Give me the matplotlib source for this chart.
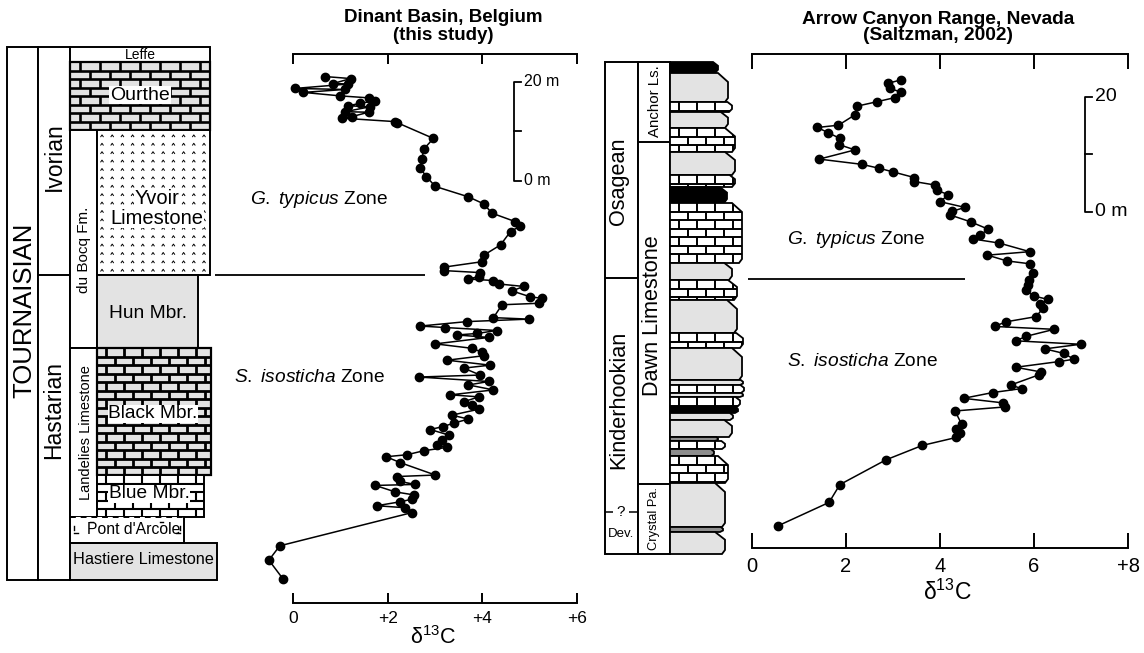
import numpy as np
import matplotlib
matplotlib.use("Agg")
import matplotlib.pyplot as plt
from matplotlib.patches import Rectangle, Polygon
from matplotlib.collections import LineCollection

plt.rcParams['font.family'] = ['Liberation Sans', 'DejaVu Sans']
plt.rcParams['mathtext.fontset'] = 'custom'
plt.rcParams['mathtext.rm'] = 'Liberation Sans'
plt.rcParams['mathtext.it'] = 'Liberation Sans:italic'

# ---------------- data ----------------
# Dinant Basin (left): d13C values and stratigraphic height (m), top to bottom
left_d13c = [0.68, 1.22, 0.85, 1.17, 0.04, 1.10, 0.22, 1.00, 1.60, 1.74,
             1.42, 1.17, 1.63, 1.10, 1.60, 1.24, 1.03, 2.16, 2.20, 2.97,
             2.76, 2.73, 2.69, 2.82, 3.01, 3.71, 4.03, 4.21, 4.70, 4.81,
             4.60, 4.39, 4.05, 4.00, 3.19, 3.20, 3.96, 3.93, 3.71, 4.24,
             4.35, 4.88, 4.63, 5.02, 5.27, 5.20, 4.42, 4.24, 4.99, 3.68,
             2.69, 3.22, 4.31, 3.89, 3.47, 4.14, 3.01, 3.79, 4.00, 4.03,
             3.26, 4.17, 3.61, 3.96, 2.66, 4.14, 3.71, 4.24, 3.33, 3.93,
             3.61, 3.79, 3.93, 3.36, 3.71, 3.40, 3.18, 2.90, 3.29, 3.15,
             3.04, 3.26, 2.76, 2.41, 1.97, 2.27, 3.01, 2.20, 2.27, 2.58,
             1.74, 2.16, 2.55, 2.51, 2.27, 1.77, 2.37, 2.51, -0.28, -0.51, -0.21]
left_height = [101.7, 101.3, 100.3, 100.2, 99.3, 99.1, 98.5, 97.8, 97.4, 96.8,
               96.3, 95.8, 95.6, 94.6, 94.5, 93.6, 93.3, 92.6, 92.4, 89.2,
               87.0, 85.0, 83.2, 81.5, 79.5, 77.4, 76.0, 74.1, 72.4, 71.5,
               70.4, 67.7, 65.7, 64.3, 63.2, 62.5, 62.1, 61.3, 60.8, 60.5,
               59.8, 59.3, 58.4, 57.2, 56.9, 55.9, 55.6, 53.0, 52.7, 52.2,
               51.3, 51.0, 50.4, 49.8, 49.5, 49.0, 47.7, 46.8, 46.0, 45.3,
               44.4, 43.4, 42.8, 41.4, 41.0, 40.1, 39.4, 38.4, 37.4, 37.0,
               36.0, 35.4, 34.5, 33.3, 32.5, 31.7, 31.0, 30.4, 29.3, 28.3,
               27.3, 26.8, 26.1, 25.3, 24.9, 23.7, 21.2, 20.9, 19.9, 19.3,
               19.1, 17.8, 17.2, 16.3, 15.8, 15.0, 14.6, 13.6, 6.9, 4.0, 0.2]

# Arrow Canyon (right): d13C values and height (m), top to bottom
right_d13c = [3.18, 2.90, 2.94, 3.18, 3.04, 2.67, 2.23, 2.19, 1.84, 1.39,
              1.62, 1.87, 1.86, 2.19, 1.43, 2.33, 2.71, 2.99, 3.45, 3.45,
              3.89, 3.93, 4.18, 4.00, 4.53, 4.25, 4.21, 4.65, 5.03, 4.85,
              4.71, 5.26, 5.91, 5.01, 5.42, 5.91, 5.98, 5.90, 5.88, 5.84,
              5.99, 6.30, 6.13, 6.20, 6.04, 5.40, 5.16, 6.43, 5.84, 5.61,
              6.99, 6.23, 6.64, 6.85, 6.54, 5.61, 6.14, 6.11, 5.50, 5.74,
              5.12, 4.50, 5.35, 5.38, 4.32, 4.46, 4.35, 4.42, 4.35, 3.62,
              2.85, 1.87, 1.64, 0.56]
right_height = [78.3, 77.7, 76.8, 76.1, 75.2, 74.5, 73.7, 72.2, 70.4, 70.0,
                69.1, 68.1, 67.0, 66.1, 64.5, 63.6, 62.9, 62.3, 61.3, 60.6,
                60.0, 59.1, 58.3, 57.1, 56.1, 55.4, 54.8, 53.6, 52.3, 51.3,
                50.6, 49.9, 48.4, 47.8, 46.8, 46.3, 44.7, 43.5, 42.6, 41.7,
                40.7, 40.1, 39.3, 38.6, 37.1, 36.2, 35.4, 34.9, 33.7, 32.9,
                32.3, 31.5, 30.7, 29.7, 29.3, 28.3, 27.5, 27.0, 25.2, 24.6,
                23.9, 22.9, 22.1, 21.4, 20.7, 18.4, 17.5, 16.9, 16.1, 14.7,
                12.2, 7.9, 4.8, 0.75]

left_ticks = [0, 2, 4, 6]
left_ticklabels = ['0', '+2', '+4', '+6']
right_ticks = [0, 2, 4, 6, 8]
right_ticklabels = ['0', '2', '4', '6', '+8']

# ---------------- figure ----------------
W, H = 1144, 653
fig = plt.figure(figsize=(W / 100, H / 100), dpi=100)
bg = fig.add_axes([0, 0, 1, 1])
bg.set_xlim(0, W)
bg.set_ylim(H, 0)
bg.axis('off')

LW = 1.4
GREY = '#e3e3e3'
DGREY = '#8e8e8e'


def ax_rect(x0, y0, x1, y1):
    return [x0 / W, 1 - y1 / H, (x1 - x0) / W, (y1 - y0) / H]


def rect(x0, y0, x1, y1, fc='white', lw=LW, z=2):
    p = Rectangle((x0, y0), x1 - x0, y1 - y0, facecolor=fc, edgecolor='black',
                  lw=lw, zorder=z)
    bg.add_patch(p)
    return p


def bricks(patch, x0, y0, x1, y1, rh, bw, lw):
    segs = []
    y = y0
    i = 0
    while y < y1 - 0.5:
        yb = min(y + rh, y1)
        if y > y0:
            segs.append([(x0, y), (x1, y)])
        x = x0 + (i % 2) * bw / 2 + bw / 2
        while x < x1:
            segs.append([(x, y), (x, yb)])
            x += bw
        y += rh
        i += 1
    lc = LineCollection(segs, colors='black', linewidths=lw,
                        zorder=patch.get_zorder() + 0.1)
    bg.add_collection(lc)
    lc.set_clip_path(patch)


def hline(x0, x1, y, lw=LW, **kw):
    bg.plot([x0, x1], [y, y], color='black', lw=lw, solid_capstyle='butt', zorder=3, **kw)


wb = dict(facecolor='white', edgecolor='none', pad=0.6)

# ---------- left stratigraphic column ----------
rect(7, 47, 38, 580)
rect(38, 47, 70, 580)
hline(38, 70, 275)
rect(70, 47, 210, 62)
p = rect(70, 62, 210, 130, fc=GREY, lw=1.6)
bricks(p, 70, 62, 210, 130, 8.5, 20, 1.9)
rect(70, 130, 97, 348)
p = rect(97, 130, 210, 275)
carets = []
for yy in np.arange(136, 272, 8.4):
    for xx in np.arange(102, 208, 10.2):
        carets.append([(xx - 1.5, yy + 1.1), (xx, yy - 1.1), (xx + 1.5, yy + 1.1)])
bg.add_collection(LineCollection(carets, colors='black', linewidths=0.7, zorder=2.2))
rect(97, 275, 198, 348, fc=GREY)
rect(70, 348, 97, 517)
p = rect(97, 348, 211, 475, fc=GREY, lw=1.6)
bricks(p, 97, 348, 211, 475, 8.5, 18, 2.0)
p = rect(97, 475, 204, 517, fc='white')
bricks(p, 97, 475, 204, 517, 8.5, 18, 1.5)
# Pont d'Arcole
bg.add_patch(Rectangle((70, 517), 114, 26, facecolor='white', edgecolor='none', zorder=2))
bg.plot([70, 70, 184, 184], [517, 543, 543, 517], color='black', lw=LW, zorder=3)
bg.plot([70, 184], [517, 517], color='black', lw=LW, ls=(0, (3, 2.5)), zorder=3)
for (a, b) in [((74, 526), (74, 530)), ((74, 533), (78, 533)), ((180, 526), (180, 530)),
               ((176, 533), (180, 533)), ((90, 522), (93, 522)), ((160, 522), (163, 522))]:
    bg.plot([a[0], b[0]], [a[1], b[1]], color='black', lw=1.0, zorder=3)
rect(70, 543, 217, 580, fc=GREY)

bg.text(24, 310, 'TOURNAISIAN', rotation=90, ha='center', va='center', fontsize=18.5, zorder=5)
bg.text(54, 157, 'Ivorian', rotation=90, ha='center', va='center', fontsize=16.5, zorder=5)
bg.text(54, 410, 'Hastarian', rotation=90, ha='center', va='center', fontsize=16.5, zorder=5)
bg.text(140, 55, 'Leffe', ha='center', va='center', fontsize=10, zorder=5)
bg.text(140, 95, 'Ourthe', ha='center', va='center', fontsize=14, zorder=5, bbox=wb)
bg.text(157, 198, 'Yvoir', ha='center', va='center', fontsize=14.5, zorder=5, bbox=wb)
bg.text(157, 218, 'Limestone', ha='center', va='center', fontsize=14.5, zorder=5, bbox=wb)
bg.text(84, 250, 'du Bocq Fm.', rotation=90, ha='center', va='center', fontsize=11, zorder=5)
bg.text(148, 313, 'Hun Mbr.', ha='center', va='center', fontsize=13.8, zorder=5)
bg.text(86, 433, 'Landelies Limestone', rotation=90, ha='center', va='center', fontsize=10.5, zorder=5)
bg.text(153, 414, 'Black Mbr.', ha='center', va='center', fontsize=13.8, zorder=5, bbox=wb)
bg.text(149, 494, 'Blue Mbr.', ha='center', va='center', fontsize=13.8, zorder=5, bbox=wb)
bg.text(134, 529, "Pont d'Arcole", ha='center', va='center', fontsize=11.3, zorder=5)
bg.text(143, 560, 'Hastiere Limestone', ha='center', va='center', fontsize=11.7, zorder=5)

# zone line + labels (left)
hline(215, 425, 275, lw=1.3)
bg.text(388, 200, r'$\mathit{G.\ typicus}$ Zone', ha='right', va='center', fontsize=13.8)
bg.text(385, 378, r'$\mathit{S.\ isosticha}$ Zone', ha='right', va='center', fontsize=13.8)
bg.text(443, 18, 'Dinant Basin, Belgium', ha='center', va='center', fontsize=13.5, fontweight='bold')
bg.text(443, 36, '(this study)', ha='center', va='center', fontsize=13.5, fontweight='bold')
bg.text(433, 638, 'δ$^{13}$C', ha='center', va='center', fontsize=15.5)

# ---------- right stratigraphic column ----------
rect(605, 62, 638, 554)
rect(638, 62, 670, 554)
hline(605, 638, 278)
hline(638, 670, 142)
hline(638, 670, 484)
hline(605, 613, 512, lw=1.1)
hline(629, 638, 512, lw=1.1)

beds = [('black', 62, 73, 718), ('grey', 73, 102, 728), ('brick', 102, 112, 732),
        ('grey', 112, 128, 728), ('brick', 128, 152, 735), ('grey', 152, 175, 735),
        ('brick', 175, 187, 735), ('black', 187, 203, 727), ('brick', 203, 263, 742),
        ('grey', 263, 280, 732), ('brick', 280, 300, 737), ('grey', 300, 333, 737),
        ('brick', 333, 348, 743), ('grey', 348, 380, 742), ('grey', 380, 385, 743),
        ('brick', 385, 393, 744), ('grey', 393, 397, 743), ('brick', 397, 407, 740),
        ('black', 407, 413, 738), ('grey', 413, 420, 733), ('grey', 420, 437, 732),
        ('dgrey', 437, 441, 718), ('brick', 441, 449, 725), ('dgrey', 449, 456, 714),
        ('brick', 456, 483, 728), ('grey', 483, 527, 725), ('dgrey', 527, 532, 723),
        ('grey', 532, 554, 725)]
L = 670
for kind, top, bot, R in beds:
    h = bot - top
    a = min(10, 0.45 * h)
    t = min(0.35 * h, 9)
    b = min(4, 0.3 * h)
    pts = [(L, top), (R - a, top), (R, top + t), (R, bot - b), (R - 3, bot), (L, bot)]
    fc = {'black': 'black', 'grey': GREY, 'dgrey': DGREY, 'brick': 'white'}[kind]
    poly = Polygon(pts, closed=True, facecolor=fc, edgecolor='black', lw=1.3, zorder=2)
    bg.add_patch(poly)
    if kind == 'brick':
        bricks(poly, L, top, R, bot, 8.5, 18, 1.4)

bg.text(619, 181, 'Osagean', rotation=90, ha='center', va='center', fontsize=15.6, zorder=5)
bg.text(619, 400, 'Kinderhookian', rotation=90, ha='center', va='center', fontsize=15.6, zorder=5)
bg.text(621, 512, '?', ha='center', va='center', fontsize=11, zorder=5)
bg.text(621, 534, 'Dev.', ha='center', va='center', fontsize=9.5, zorder=5)
bg.text(655, 101, 'Anchor Ls.', rotation=90, ha='center', va='center', fontsize=10.8, zorder=5)
bg.text(653, 316, 'Dawn Limestone', rotation=90, ha='center', va='center', fontsize=15.6, zorder=5)
bg.text(654, 518, 'Crystal Pa.', rotation=90, ha='center', va='center', fontsize=9.3, zorder=5)

hline(748, 965, 279, lw=1.3)
bg.text(787, 240, r'$\mathit{G.\ typicus}$ Zone', ha='left', va='center', fontsize=13.8)
bg.text(787, 362, r'$\mathit{S.\ isosticha}$ Zone', ha='left', va='center', fontsize=13.8)
bg.text(938, 20, 'Arrow Canyon Range, Nevada', ha='center', va='center', fontsize=13.8, fontweight='bold')
bg.text(938, 35, '(Saltzman, 2002)', ha='center', va='center', fontsize=13.8, fontweight='bold')
bg.text(947, 592, 'δ$^{13}$C', ha='center', va='center', fontsize=16.5)

# ---------- data axes ----------
def style_axes(ax, ticks, labels, tlen, fs, pad):
    ax.patch.set_visible(False)
    for s in ('left', 'right'):
        ax.spines[s].set_visible(False)
    for s in ('top', 'bottom'):
        ax.spines[s].set_linewidth(1.4)
    ax.set_yticks([])
    ax.set_xticks(ticks)
    ax.set_xticklabels(labels, fontsize=fs)
    ax.tick_params(axis='x', direction='in', top=True, bottom=True, labeltop=False,
                   length=tlen, width=1.4, pad=pad)


axL = fig.add_axes(ax_rect(293, 54, 576.7, 603))
axL.set_xlim(0, 6)
axL.set_ylim(-4.65, 106.26)
style_axes(axL, left_ticks, left_ticklabels, 7.5, 12.5, 6)
axL.plot(left_d13c, left_height, '-o', color='black', lw=1.1, ms=6, clip_on=False, zorder=3)
# scale bar (20 m)
axL.plot([4.82, 4.67, 4.67, 4.82], [100.67, 100.67, 80.67, 80.67], color='black', lw=1.3)
axL.plot([4.67, 4.82], [90.67, 90.67], color='black', lw=1.3)
axL.text(4.88, 100.67, '20 m', ha='left', va='center', fontsize=11.4)
axL.text(4.88, 80.67, '0 m', ha='left', va='center', fontsize=11.4)

axR = fig.add_axes(ax_rect(752, 54, 1128, 548))
axR.set_xlim(0, 8)
axR.set_ylim(-3.13, 82.78)
style_axes(axR, right_ticks, right_ticklabels, 11, 14.5, 6.5)
axR.plot(right_d13c, right_height, '-o', color='black', lw=1.1, ms=6, clip_on=False, zorder=3)
axR.plot([7.24, 7.09, 7.09, 7.24], [75.36, 75.36, 55.36, 55.36], color='black', lw=1.3)
axR.plot([7.09, 7.24], [65.36, 65.36], color='black', lw=1.3)
axR.text(7.3, 75.36, '20', ha='left', va='center', fontsize=14)
axR.text(7.3, 55.36, '0 m', ha='left', va='center', fontsize=14)

fig.savefig('out.png', dpi=100)
